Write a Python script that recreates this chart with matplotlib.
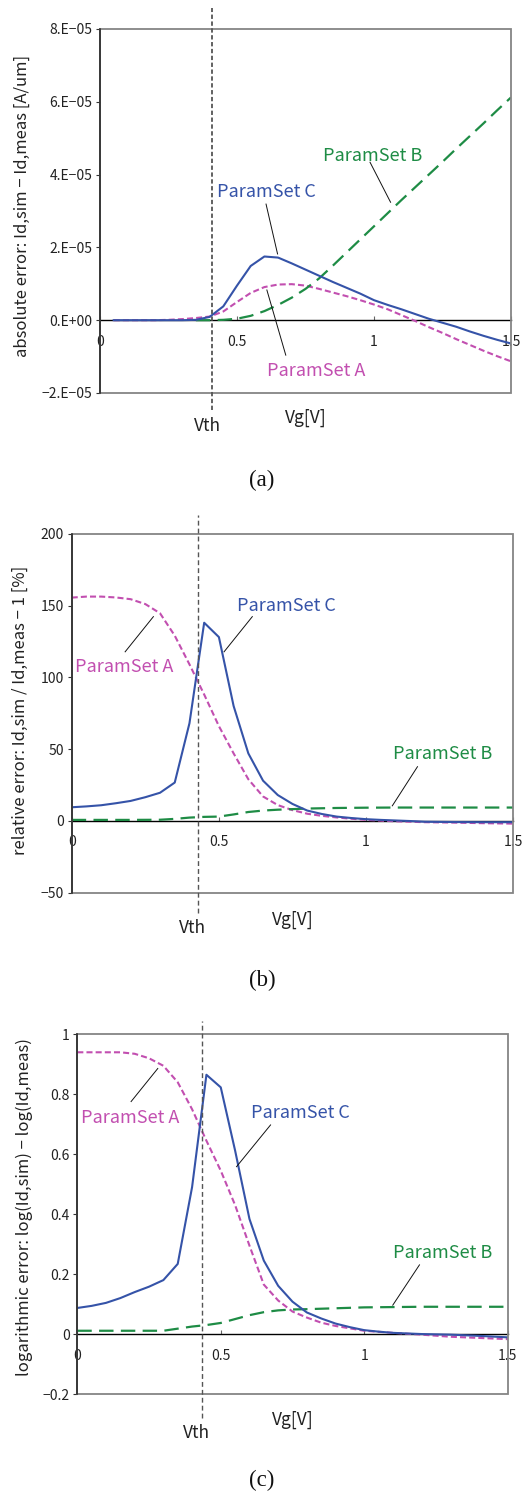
import matplotlib
matplotlib.use("Agg")
import matplotlib.pyplot as plt
from matplotlib.patches import Rectangle
import matplotlib.transforms as mtransforms

plt.rcParams['font.family'] = ['Noto Sans CJK JP', 'DejaVu Sans']

W, H = 526, 1493
BLUE = '#3553A8'
MAGENTA = '#C24FB0'
GREEN = '#1E8C45'

# ---------------- data ----------------
# (a) absolute error [A/um]
a_x_C = [0.05, 0.1, 0.2, 0.3, 0.35, 0.4, 0.45, 0.5, 0.55, 0.6, 0.65, 0.7, 0.75, 0.8, 0.85,
         0.9, 0.95, 1.0, 1.05, 1.1, 1.15, 1.2, 1.25, 1.3, 1.35, 1.4, 1.45, 1.5]
a_y_C = [0, 0, 0, 0, 0.01e-5, 0.09e-5, 0.38e-5, 0.95e-5, 1.49e-5, 1.75e-5, 1.72e-5, 1.56e-5,
         1.39e-5, 1.22e-5, 1.05e-5, 0.89e-5, 0.73e-5, 0.55e-5, 0.42e-5, 0.30e-5, 0.17e-5,
         0.04e-5, -0.07e-5, -0.18e-5, -0.31e-5, -0.43e-5, -0.54e-5, -0.64e-5]
a_x_A = [0.05, 0.1, 0.2, 0.25, 0.3, 0.35, 0.4, 0.45, 0.5, 0.55, 0.6, 0.65, 0.7, 0.75, 0.8,
         0.85, 0.9, 0.95, 1.0, 1.05, 1.1, 1.15, 1.2, 1.25, 1.3, 1.35, 1.4, 1.45, 1.5]
a_y_A = [0, 0, 0, 0.01e-5, 0.03e-5, 0.06e-5, 0.10e-5, 0.24e-5, 0.50e-5, 0.75e-5, 0.91e-5,
         0.98e-5, 0.99e-5, 0.95e-5, 0.86e-5, 0.76e-5, 0.66e-5, 0.55e-5, 0.43e-5, 0.30e-5,
         0.14e-5, -0.02e-5, -0.19e-5, -0.35e-5, -0.52e-5, -0.68e-5, -0.84e-5, -0.99e-5, -1.13e-5]
a_x_B = [0.35, 0.4, 0.45, 0.5, 0.55, 0.6, 0.65, 0.7, 0.75, 0.8, 0.85, 0.9, 0.95, 1.0, 1.05,
         1.1, 1.15, 1.2, 1.25, 1.3, 1.35, 1.4, 1.45, 1.5]
a_y_B = [0, 0, 0.01e-5, 0.04e-5, 0.12e-5, 0.25e-5, 0.42e-5, 0.62e-5, 0.86e-5, 1.15e-5,
         1.50e-5, 1.86e-5, 2.22e-5, 2.58e-5, 2.94e-5, 3.30e-5, 3.65e-5, 4.00e-5, 4.35e-5,
         4.71e-5, 5.06e-5, 5.41e-5, 5.77e-5, 6.12e-5]
a_yticks = [-2e-5, 0, 2e-5, 4e-5, 6e-5, 8e-5]
a_yticklabels = ['\u22122.E\u221205', '0.E+00', '2.E\u221205', '4.E\u221205', '6.E\u221205', '8.E\u221205']
a_ylim = (-2e-5, 8e-5)
a_vth = 0.41

# (b) relative error [%]
b_x_C = [0, 0.05, 0.1, 0.15, 0.2, 0.25, 0.3, 0.35, 0.4, 0.45, 0.5, 0.55, 0.6, 0.65, 0.7,
         0.75, 0.8, 0.85, 0.9, 0.95, 1.0, 1.05, 1.1, 1.15, 1.2, 1.3, 1.4, 1.5]
b_y_C = [9.5, 10.1, 10.9, 12.3, 13.9, 16.5, 19.6, 26.7, 68, 138, 128, 80, 47, 28, 18,
         11.8, 7.2, 4.8, 3.0, 2.0, 1.2, 0.7, 0.3, -0.1, -0.6, -0.8, -0.9, -0.9]
b_x_A = [0, 0.05, 0.1, 0.15, 0.2, 0.25, 0.3, 0.35, 0.4, 0.45, 0.5, 0.55, 0.6, 0.65, 0.7,
         0.75, 0.8, 0.85, 0.9, 0.95, 1.0, 1.1, 1.2, 1.3, 1.4, 1.5]
b_y_A = [155.5, 156.2, 156.2, 155.6, 154.4, 151, 144.6, 129, 109, 88, 66, 47, 29, 17, 11,
         7.5, 5, 3.5, 2.4, 1.5, 0.7, -0.3, -0.9, -1.2, -1.6, -1.9]
b_x_B = [0, 0.1, 0.2, 0.3, 0.35, 0.4, 0.45, 0.5, 0.55, 0.6, 0.65, 0.7, 0.75, 0.8, 0.9, 1.0,
         1.1, 1.2, 1.3, 1.4, 1.5]
b_y_B = [0.7, 0.7, 0.7, 0.8, 1.4, 2.3, 2.8, 3.0, 4.5, 6.2, 7.2, 7.8, 8.2, 8.6, 9.0, 9.2,
         9.3, 9.3, 9.3, 9.3, 9.3]
b_yticks = [-50, 0, 50, 100, 150, 200]
b_yticklabels = ['\u221250', '0', '50', '100', '150', '200']
b_ylim = (-50, 200)
b_vth = 0.43

# (c) logarithmic error
c_x_C = [0, 0.05, 0.1, 0.15, 0.2, 0.25, 0.3, 0.35, 0.4, 0.45, 0.5, 0.55, 0.6, 0.65, 0.7,
         0.75, 0.8, 0.85, 0.9, 0.95, 1.0, 1.05, 1.1, 1.15, 1.2, 1.3, 1.4, 1.5]
c_y_C = [0.087, 0.094, 0.104, 0.120, 0.140, 0.158, 0.180, 0.234, 0.49, 0.865, 0.823, 0.612,
         0.384, 0.245, 0.161, 0.108, 0.072, 0.052, 0.035, 0.023, 0.013, 0.008, 0.004, 0.002,
         0.0, -0.002, -0.006, -0.011]
c_x_A = [0, 0.05, 0.1, 0.15, 0.2, 0.25, 0.3, 0.35, 0.4, 0.45, 0.5, 0.55, 0.6, 0.65, 0.7,
         0.75, 0.8, 0.85, 0.9, 0.95, 1.0, 1.1, 1.2, 1.3, 1.4, 1.5]
c_y_A = [0.94, 0.94, 0.94, 0.94, 0.935, 0.92, 0.895, 0.84, 0.75, 0.645, 0.545, 0.43, 0.295,
         0.165, 0.112, 0.075, 0.055, 0.038, 0.027, 0.019, 0.011, 0.004, -0.002, -0.009,
         -0.013, -0.017]
c_x_B = [0, 0.1, 0.2, 0.3, 0.35, 0.4, 0.45, 0.5, 0.55, 0.6, 0.65, 0.7, 0.75, 0.8, 0.9, 1.0,
         1.1, 1.2, 1.3, 1.4, 1.5]
c_y_B = [0.011, 0.011, 0.011, 0.011, 0.018, 0.025, 0.030, 0.037, 0.050, 0.063, 0.073, 0.079,
         0.082, 0.083, 0.086, 0.089, 0.090, 0.091, 0.091, 0.091, 0.091]
c_yticks = [-0.2, 0, 0.2, 0.4, 0.6, 0.8, 1.0]
c_yticklabels = ['\u22120.2', '0', '0.2', '0.4', '0.6', '0.8', '1']
c_ylim = (-0.2, 1.0)
c_vth = 0.436

xticks = [0, 0.5, 1.0, 1.5]
xticklabels = ['0', '0.5', '1', '1.5']
xlim = (0, 1.5)

fig = plt.figure(figsize=(W / 100, H / 100), dpi=100)


def px_axes(left, right, top, bottom):
    return fig.add_axes([left / W, 1 - bottom / H, (right - left) / W, (bottom - top) / H])


def ftext(x, y, s, **kw):
    fig.text(x / W, 1 - y / H, s, ha='center', va='center', **kw)


def panel(ax, series, yticks, yticklabels, ylim, vth, vth_ext, vth_lw, annots,
          ylabel, ylabel_pos, vth_pos, vg_pos, tag, tag_pos):
    (xC, yC), (xA, yA), (xB, yB) = series
    ax.plot(xA, yA, color=MAGENTA, lw=1.5, ls=(0, (2.9, 1.5)), zorder=3)
    ax.plot(xB, yB, color=GREEN, lw=1.6, ls=(0, (6.5, 3.3)), zorder=3)
    ax.plot(xC, yC, color=BLUE, lw=1.5, zorder=4)
    ax.set_xlim(*xlim)
    ax.set_ylim(*ylim)
    ax.set_yticks(yticks)
    ax.set_yticklabels(yticklabels)
    ax.set_xticks(xticks)
    ax.set_xticklabels(xticklabels)
    ax.spines['top'].set_visible(False)
    ax.spines['right'].set_visible(False)
    ax.spines['bottom'].set_position(('data', 0))
    ax.spines['bottom'].set_color('black')
    ax.spines['bottom'].set_linewidth(1.0)
    ax.spines['left'].set_color('#222222')
    ax.spines['left'].set_linewidth(1.1)
    ax.spines['left'].set_zorder(6)
    ax.add_patch(Rectangle((0, 0), 1, 1, transform=ax.transAxes, fill=False,
                           edgecolor='#858585', lw=1.3, zorder=5, clip_on=False))
    ax.tick_params(axis='x', direction='in', length=3, width=0.8, color='#666666',
                   pad=10.5, labelsize=10, labelcolor='#222222')
    ax.tick_params(axis='y', direction='out', length=3, width=0.8, color='#333333',
                   pad=2.5, labelsize=10, labelcolor='#222222')
    trans = mtransforms.blended_transform_factory(ax.transData, ax.transAxes)
    ax.plot([vth, vth], vth_ext, transform=trans, color='#555555', lw=vth_lw,
            ls=(0, (2.4, 1.4)) if vth_lw > 1.1 else (0, (3.5, 2.2)), clip_on=False, zorder=7)
    for txt, col, tpos, l0, l1 in annots:
        ax.text(tpos[0], tpos[1], txt, transform=ax.transAxes, color=col, fontsize=13,
                ha='center', va='center', zorder=8)
        ax.plot([l0[0], l1[0]], [l0[1], l1[1]], transform=ax.transAxes, color='#111111',
                lw=0.7, zorder=8)
    ftext(ylabel_pos[0], ylabel_pos[1], ylabel, rotation=90, fontsize=12, color='#222222')
    ftext(vth_pos[0], vth_pos[1], 'Vth', fontsize=12.5, color='#222222')
    ftext(vg_pos[0], vg_pos[1], 'Vg[V]', fontsize=12.5, color='#222222')
    ftext(tag_pos[0], tag_pos[1], tag, fontsize=16.5, family='Liberation Serif', color='#111111')


ax_a = px_axes(100, 511, 29, 393)
panel(ax_a, [(a_x_C, a_y_C), (a_x_A, a_y_A), (a_x_B, a_y_B)], a_yticks, a_yticklabels,
      a_ylim, a_vth, (-0.047, 1.058), 1.3,
      [('ParamSet B', GREEN, (0.664, 0.652), (0.657, 0.634), (0.707, 0.524)),
       ('ParamSet C', BLUE, (0.406, 0.551), (0.404, 0.519), (0.432, 0.382)),
       ('ParamSet A', MAGENTA, (0.527, 0.061), (0.452, 0.104), (0.406, 0.283))],
      'absolute error: Id,sim \u2212 Id,meas [A/um]', (22, 206), (207, 426), (306, 418),
      '(a)', (262, 480))

ax_b = px_axes(71.7, 513.3, 533.7, 892.7)
panel(ax_b, [(b_x_C, b_y_C), (b_x_A, b_y_A), (b_x_B, b_y_B)], b_yticks, b_yticklabels,
      b_ylim, b_vth, (-0.057, 1.052), 1.0,
      [('ParamSet C', BLUE, (0.487, 0.799), (0.409, 0.769), (0.345, 0.671)),
       ('ParamSet A', MAGENTA, (0.118, 0.630), (0.121, 0.671), (0.185, 0.769)),
       ('ParamSet B', GREEN, (0.839, 0.386), (0.783, 0.351), (0.726, 0.242))],
      'relative error: Id,sim / Id,meas \u2212 1 [%]', (20, 710), (192, 928), (293, 920),
      '(b)', (262, 980))

ax_c = px_axes(77.3, 507.7, 1034.3, 1394)
panel(ax_c, [(c_x_C, c_y_C), (c_x_A, c_y_A), (c_x_B, c_y_B)], c_yticks, c_yticklabels,
      c_ylim, c_vth, (-0.067, 1.038), 1.0,
      [('ParamSet A', MAGENTA, (0.124, 0.766), (0.125, 0.813), (0.187, 0.905)),
       ('ParamSet C', BLUE, (0.519, 0.782), (0.449, 0.748), (0.370, 0.632)),
       ('ParamSet B', GREEN, (0.848, 0.391), (0.795, 0.359), (0.733, 0.247))],
      'logarithmic error: log(Id,sim) \u2212 log(Id,meas)', (24, 1207), (196, 1433), (293, 1420),
      '(c)', (262, 1480))

fig.savefig('out.png', dpi=100)
